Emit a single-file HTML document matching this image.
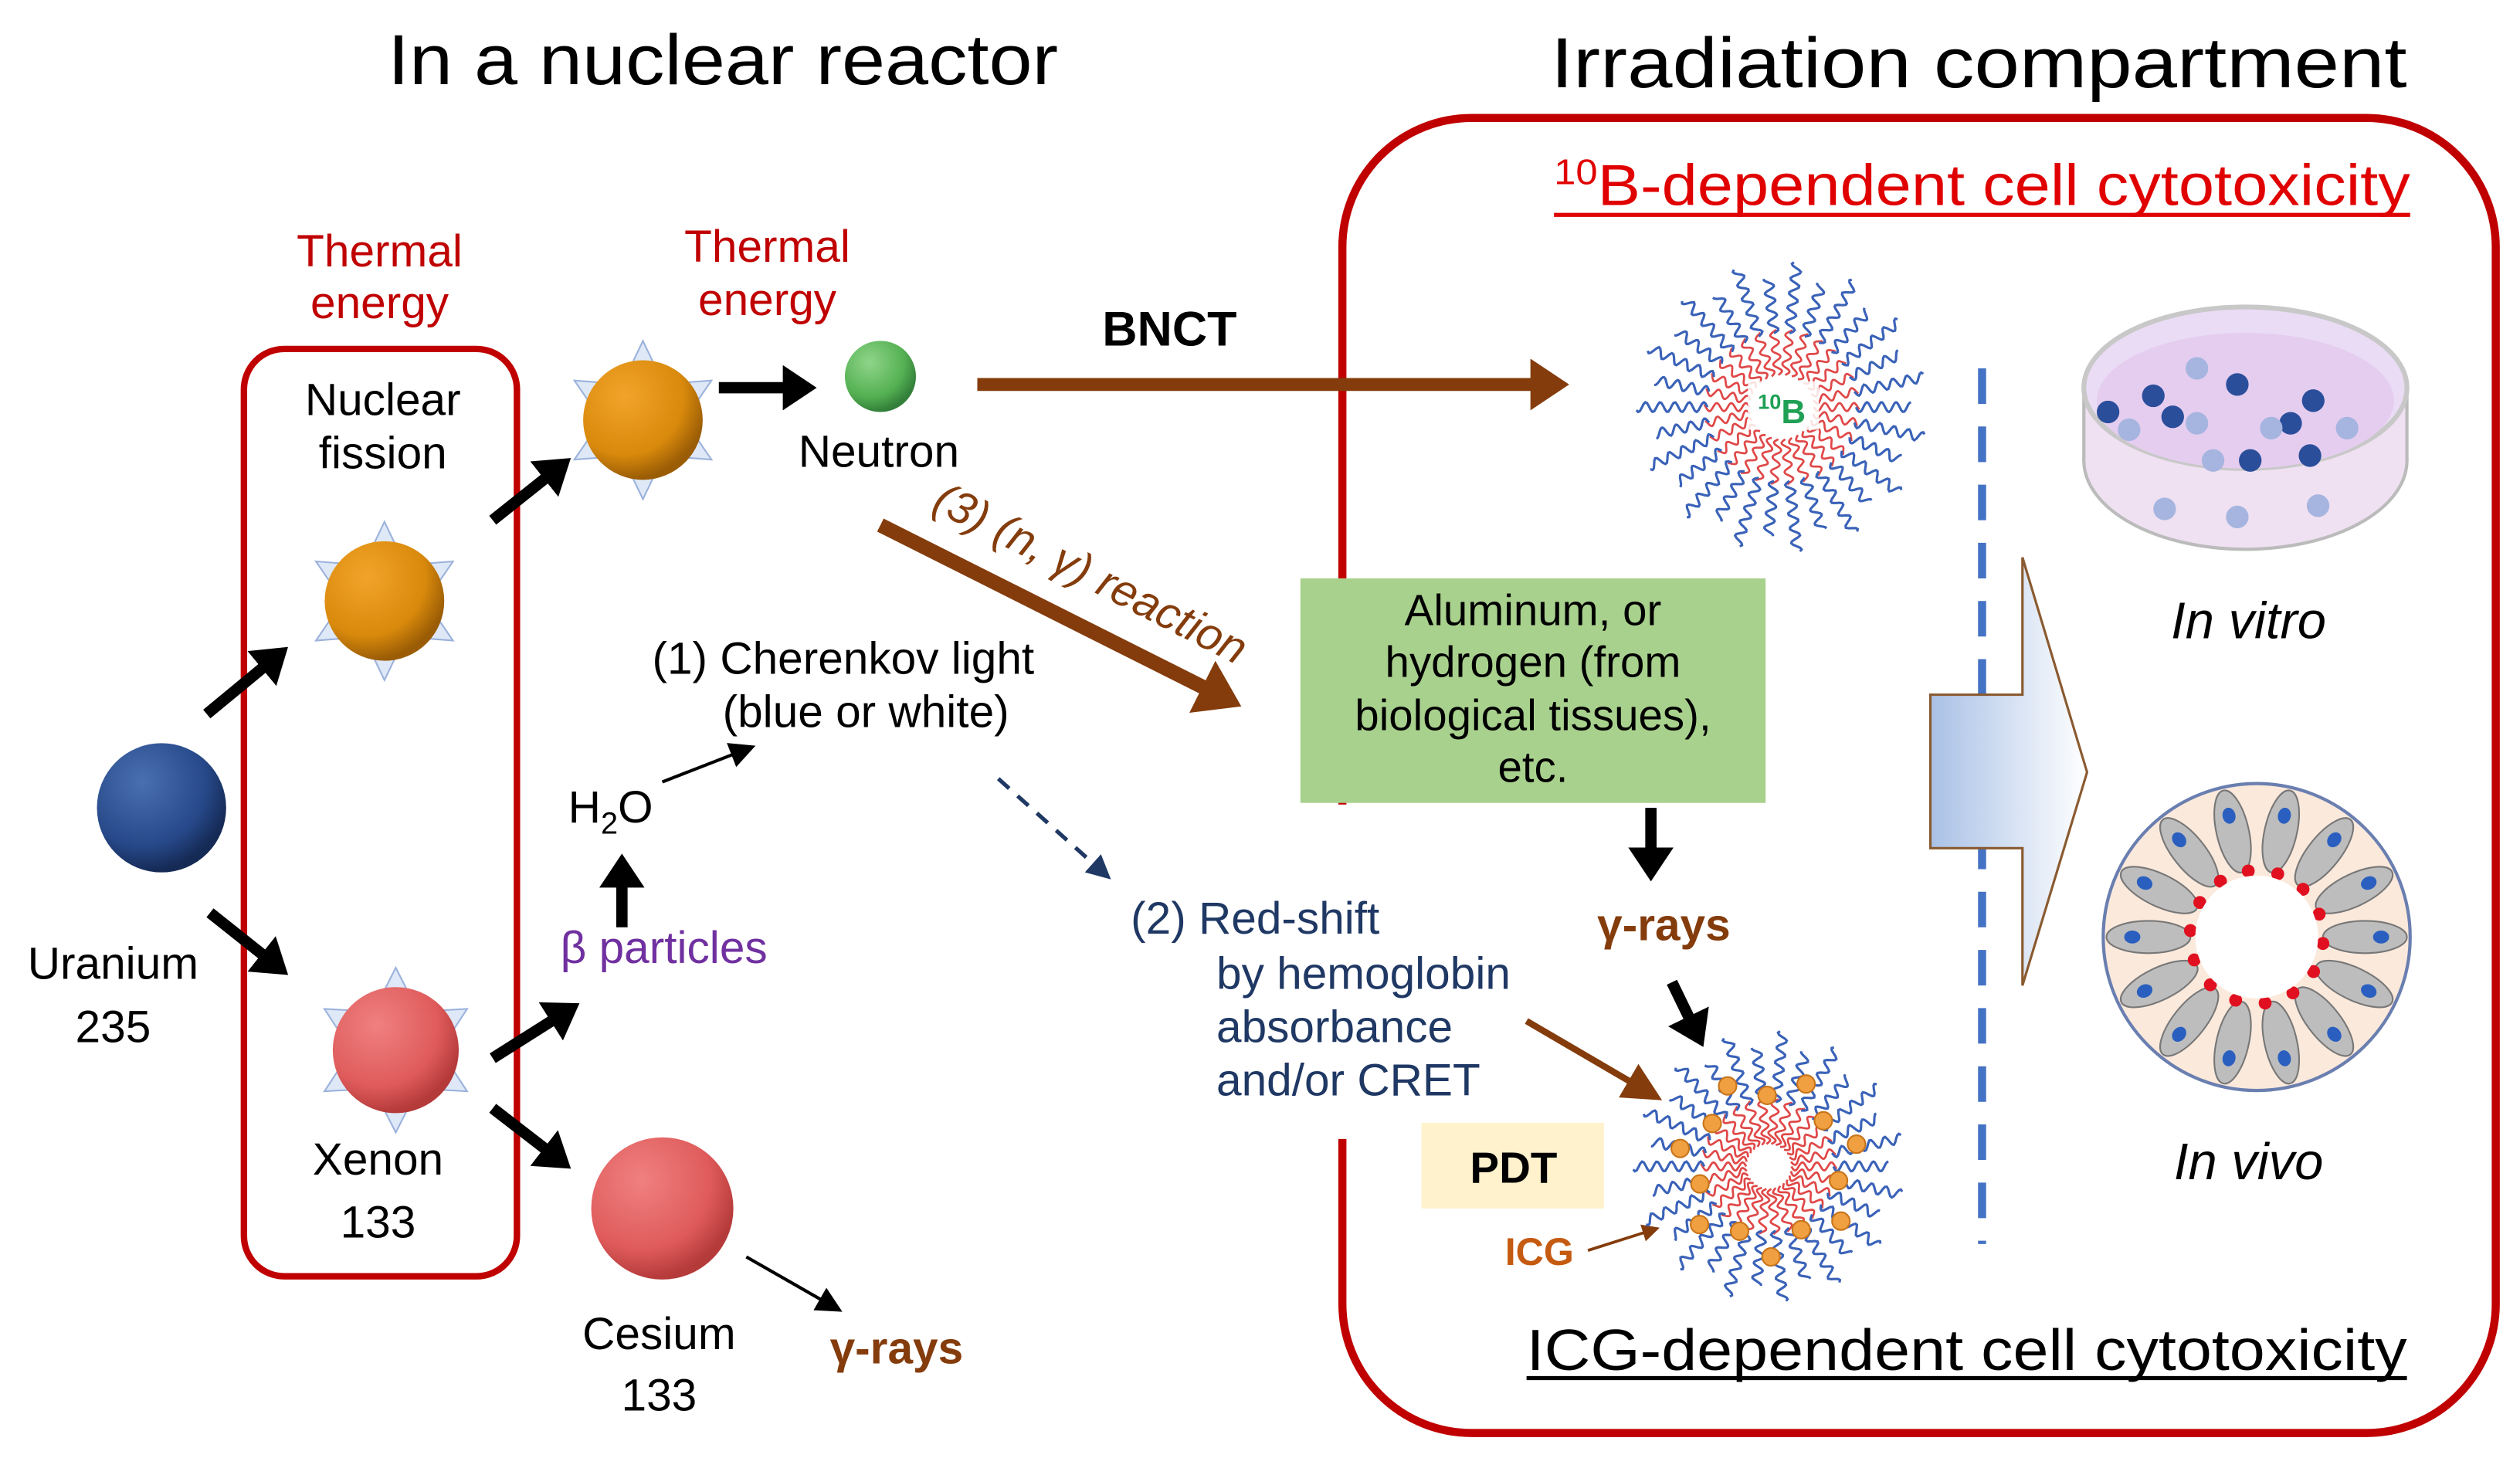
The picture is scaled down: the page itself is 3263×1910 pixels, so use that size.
<!DOCTYPE html>
<html><head><meta charset="utf-8">
<style>
html,body{margin:0;padding:0;background:#fff;}
svg{display:block;}
text{font-family:"Liberation Sans",Arial,sans-serif;}
</style></head>
<body>
<svg id="s" width="3263" height="1910" viewBox="0 0 1560 913" preserveAspectRatio="none" xmlns="http://www.w3.org/2000/svg">
<defs>
<radialGradient id="gBlue" cx="35%" cy="30%" r="70%"><stop offset="0" stop-color="#4a6fb0"/><stop offset="0.7" stop-color="#27498a"/><stop offset="1" stop-color="#152a55"/></radialGradient>
<radialGradient id="gOr" cx="35%" cy="30%" r="70%"><stop offset="0" stop-color="#f2a42a"/><stop offset="0.7" stop-color="#d98a0c"/><stop offset="1" stop-color="#9a5c05"/></radialGradient>
<radialGradient id="gRed" cx="35%" cy="30%" r="70%"><stop offset="0" stop-color="#f08080"/><stop offset="0.7" stop-color="#df5b5b"/><stop offset="1" stop-color="#b53a3a"/></radialGradient>
<radialGradient id="gGr" cx="35%" cy="30%" r="70%"><stop offset="0" stop-color="#8fd58a"/><stop offset="0.7" stop-color="#54b052"/><stop offset="1" stop-color="#33803a"/></radialGradient>
<linearGradient id="gArr" x1="0" y1="0" x2="1" y2="0"><stop offset="0" stop-color="#a9c1e6"/><stop offset="1" stop-color="#ffffff"/></linearGradient>
<marker id="mB" markerWidth="4" markerHeight="4" refX="2.2" refY="2" orient="auto" markerUnits="strokeWidth"><path d="M0,0 L3,2 L0,4 z" fill="#000"/></marker>
<marker id="mBt" markerWidth="8" markerHeight="8" refX="6" refY="4" orient="auto" markerUnits="strokeWidth"><path d="M0,0 L8,4 L0,8 z" fill="#000"/></marker>
<marker id="mBr" markerWidth="4" markerHeight="4" refX="2.2" refY="2" orient="auto" markerUnits="strokeWidth"><path d="M0,0 L3,2 L0,4 z" fill="#843c0c"/></marker>
<marker id="mBrt" markerWidth="6" markerHeight="6" refX="4" refY="3" orient="auto" markerUnits="strokeWidth"><path d="M0,0 L6,3 L0,6 z" fill="#843c0c"/></marker>
<marker id="mN" markerWidth="6" markerHeight="6" refX="4" refY="3" orient="auto" markerUnits="strokeWidth"><path d="M0,0 L6,3 L0,6 z" fill="#1f3864"/></marker>
</defs>

<text x="240" y="52" font-size="44" textLength="415" lengthAdjust="spacingAndGlyphs">In a nuclear reactor</text>
<text x="960" y="54" font-size="44" textLength="530" lengthAdjust="spacingAndGlyphs">Irradiation compartment</text>

<rect x="831" y="73" width="714" height="814" rx="80" fill="none" stroke="#c00000" stroke-width="5"/>
<rect x="822" y="498" width="18" height="207" fill="#fff"/>

<rect x="151" y="216" width="169" height="574" rx="25" fill="none" stroke="#c00000" stroke-width="4"/>

<g fill="#c00000" font-size="28" text-anchor="middle">
<text x="235" y="165">Thermal</text><text x="235" y="197">energy</text>
<text x="475" y="162">Thermal</text><text x="475" y="195">energy</text>
</g>
<g font-size="28" text-anchor="middle">
<text x="237" y="257">Nuclear</text><text x="237" y="290">fission</text>
<text x="70" y="606">Uranium</text><text x="70" y="645">235</text>
<text x="234" y="727">Xenon</text><text x="234" y="766">133</text>
<text x="408" y="835">Cesium</text><text x="408" y="873">133</text>
<text x="544" y="289">Neutron</text>
<text x="522" y="417">(1) Cherenkov light</text>
<text x="536" y="450">(blue or white)</text>
<text x="378" y="509">H<tspan font-size="19" dy="7">2</tspan><tspan dy="-7">O</tspan></text>
</g>
<text x="555" y="844" font-size="28" font-weight="bold" fill="#843c0c" text-anchor="middle">γ-rays</text>
<text x="411" y="596" font-size="28" fill="#7030a0" text-anchor="middle">β particles</text>
<text x="724" y="214" font-size="30" font-weight="bold" text-anchor="middle">BNCT</text>

<g id="stars" fill="#dfe8f7" stroke="#9bb2dc" stroke-width="1"></g>

<circle cx="100" cy="500" r="40" fill="url(#gBlue)"/>
<circle cx="238" cy="372" r="37" fill="url(#gOr)"/>
<circle cx="398" cy="260" r="37" fill="url(#gOr)"/>
<circle cx="545" cy="233" r="22" fill="url(#gGr)"/>
<circle cx="245" cy="650" r="39" fill="url(#gRed)"/>
<circle cx="410" cy="748" r="44" fill="url(#gRed)"/>

<g stroke="#000" stroke-width="7" marker-end="url(#mB)" fill="none">
<line x1="128" y1="442" x2="174" y2="404"/>
<line x1="130" y1="565" x2="174" y2="600"/>
<line x1="305" y1="322" x2="349" y2="287"/>
<line x1="445" y1="240" x2="500" y2="240"/>
<line x1="305" y1="655" x2="354" y2="624"/>
<line x1="305" y1="686" x2="349" y2="720"/>
<line x1="385" y1="574" x2="385" y2="534"/>
<line x1="1022" y1="500" x2="1022" y2="540"/>
<line x1="1035" y1="608" x2="1052" y2="643"/>
</g>
<g stroke="#000" stroke-width="2" marker-end="url(#mBt)" fill="none">
<line x1="462" y1="778" x2="518" y2="810"/>
<line x1="410" y1="484" x2="464" y2="463"/>
</g>
<line x1="618" y1="482" x2="684" y2="541" stroke="#1f3864" stroke-width="2.5" stroke-dasharray="9,7" marker-end="url(#mN)"/>

<line x1="605" y1="238" x2="965" y2="238" stroke="#843c0c" stroke-width="8" marker-end="url(#mBr)"/>
<line x1="545" y1="325" x2="762" y2="434" stroke="#843c0c" stroke-width="9" marker-end="url(#mBr)"/>
<line x1="945" y1="632" x2="1022" y2="677" stroke="#843c0c" stroke-width="4" marker-end="url(#mBrt)"/>
<line x1="983" y1="774" x2="1024" y2="761" stroke="#843c0c" stroke-width="1.8" marker-end="url(#mBrt)"/>
<text x="0" y="0" font-size="28" fill="#843c0c" font-style="italic" transform="translate(576,315) rotate(27)">(3) (n, γ) reaction</text>

<g font-size="28" fill="#1f3864">
<text x="700" y="578">(2) Red-shift</text>
<text x="753" y="612">by hemoglobin</text>
<text x="753" y="645">absorbance</text>
<text x="753" y="678">and/or CRET</text>
</g>

<rect x="805" y="358" width="288" height="139" fill="#a9d18e"/>
<g font-size="27" text-anchor="middle">
<text x="949" y="387">Aluminum, or</text>
<text x="949" y="419">hydrogen (from</text>
<text x="949" y="452">biological tissues),</text>
<text x="949" y="484">etc.</text>
</g>
<text x="1030" y="582" font-size="28" font-weight="bold" fill="#843c0c" text-anchor="middle">γ-rays</text>

<rect x="880" y="695" width="113" height="53" fill="#fff2cc"/>
<text x="937" y="732" font-size="27" font-weight="bold" text-anchor="middle">PDT</text>
<text x="953" y="783" font-size="24" font-weight="bold" fill="#c55a11" text-anchor="middle">ICG</text>

<g id="mic"></g>
<text x="1103" y="262" font-size="21" font-weight="bold" fill="#1fa055" text-anchor="middle"><tspan font-size="13" dy="-9">10</tspan><tspan dy="9">B</tspan></text>

<text x="962" y="127" font-size="36" fill="#e00000" textLength="530" lengthAdjust="spacingAndGlyphs"><tspan font-size="22" dy="-13">10</tspan><tspan dy="13">B-dependent cell cytotoxicity</tspan></text>
<line x1="962" y1="133" x2="1492" y2="133" stroke="#e00000" stroke-width="2.5"/>
<text x="945" y="848" font-size="36" textLength="545" lengthAdjust="spacingAndGlyphs">ICG-dependent cell cytotoxicity</text>
<line x1="945" y1="853" x2="1490" y2="853" stroke="#000" stroke-width="2.5"/>

<line x1="1227" y1="228" x2="1227" y2="770" stroke="#4472c4" stroke-width="5" stroke-dasharray="22,14"/>

<path d="M1195,430 L1252,430 L1252,345 L1292,478 L1252,610 L1252,525 L1195,525 Z" fill="url(#gArr)" stroke="#8a5a30" stroke-width="1.5"/>

<ellipse cx="1390" cy="285" rx="100" ry="55" fill="#efe0f2" stroke="#bbb" stroke-width="2"/>
<rect x="1290" y="240" width="200" height="45" fill="#efe0f2"/>
<line x1="1290" y1="240" x2="1290" y2="285" stroke="#bbb" stroke-width="2"/>
<line x1="1490" y1="240" x2="1490" y2="285" stroke="#bbb" stroke-width="2"/>
<ellipse cx="1390" cy="240" rx="100" ry="50" fill="#eadcf5" stroke="#c8c8c8" stroke-width="3"/>
<ellipse cx="1390" cy="248" rx="92" ry="42" fill="#e5cdf0"/>
<g id="dots"></g>
<text x="1392" y="395" font-size="32" font-style="italic" text-anchor="middle">In vitro</text>

<circle cx="1397" cy="580" r="95" fill="#fbe9dc" stroke="#6a7fb0" stroke-width="2"/>
<g id="mice"></g>
<circle cx="1397" cy="580" r="38" fill="#fff"/>
<text x="1392" y="730" font-size="32" font-style="italic" text-anchor="middle">In vivo</text>
</svg>
<script>
var NS="http://www.w3.org/2000/svg";
function el(p,t,a){var e=document.createElementNS(NS,t);for(var k in a)e.setAttribute(k,a[k]);p.appendChild(e);return e;}
var st=document.getElementById('stars');
[[238,372,37],[398,260,37],[245,650,39]].forEach(function(b){
 for(var i=0;i<6;i++){var a=i*Math.PI/3-Math.PI/2,a1=a-0.25,a2=a+0.25,R=b[2]+12,r=b[2]-4;
 el(st,'path',{d:'M'+(b[0]+r*Math.cos(a1))+','+(b[1]+r*Math.sin(a1))+' L'+(b[0]+R*Math.cos(a))+','+(b[1]+R*Math.sin(a))+' L'+(b[0]+r*Math.cos(a2))+','+(b[1]+r*Math.sin(a2))+'Z'});}
});
var mic=document.getElementById('mic');
function wave(cx,cy,a,r0,r1,amp,col,w){var d='',n=40;for(var i=0;i<=n;i++){var t=i/n,r=r0+(r1-r0)*t,o=amp*Math.sin(t*Math.PI*2*((r1-r0)/9));
 var x=cx+r*Math.cos(a)-o*Math.sin(a),y=cy+r*Math.sin(a)+o*Math.cos(a);d+=(i?'L':'M')+x.toFixed(1)+','+y.toFixed(1);}
 el(mic,'path',{d:d,fill:'none',stroke:col,'stroke-width':w});}
function micelle(cx,cy,inner,icg){var n=30;for(var i=0;i<n;i++){var a=i*2*Math.PI/n;wave(cx,cy,a,inner,inner+28,2.5,'#e04848',1.3);wave(cx,cy,a,inner+26,inner+60+((i%2)*10),3,'#3a62b8',1.5);}
 if(icg){for(var j=0;j<14;j++){var a=j*2*Math.PI/14+0.2,r=inner+30+(j%2)*12;el(mic,'circle',{cx:cx+r*Math.cos(a),cy:cy+r*Math.sin(a),r:5.5,fill:'#f0a040',stroke:'#c8741a','stroke-width':1});}}}
micelle(1103,252,20,false);
micelle(1095,722,14,true);
el(mic,'rect',{x:1082,y:236,width:44,height:30,fill:'#fff',opacity:0.85});
var dt=document.getElementById('dots');
[[1305,255,1],[1318,266,0],[1333,245,1],[1345,258,1],[1360,262,0],[1385,238,1],[1370,285,0],[1393,285,1],[1418,262,1],[1432,248,1],[1430,282,1],[1453,265,0],[1340,315,0],[1385,320,0],[1435,313,0],[1360,228,0],[1406,265,0]].forEach(function(p){
 el(dt,'circle',{cx:p[0],cy:p[1],r:7,fill:p[2]?'#2a4e9a':'#a6b5df'});});
var mc=document.getElementById('mice');
for(var i=0;i<14;i++){var a=i*2*Math.PI/14,cx=1397+67*Math.cos(a),cy=580+67*Math.sin(a),deg=a*180/Math.PI;
 var g=el(mc,'g',{transform:'translate('+cx+','+cy+') rotate('+deg+')'});
 el(g,'ellipse',{cx:0,cy:0,rx:26,ry:10,fill:'#bdbdbd',stroke:'#777','stroke-width':1});
 el(g,'ellipse',{cx:10,cy:0,rx:5,ry:4,fill:'#2a5fc0'});
 el(g,'circle',{cx:-26,cy:4,r:4,fill:'#e01020'});}
</script>
</body></html>
